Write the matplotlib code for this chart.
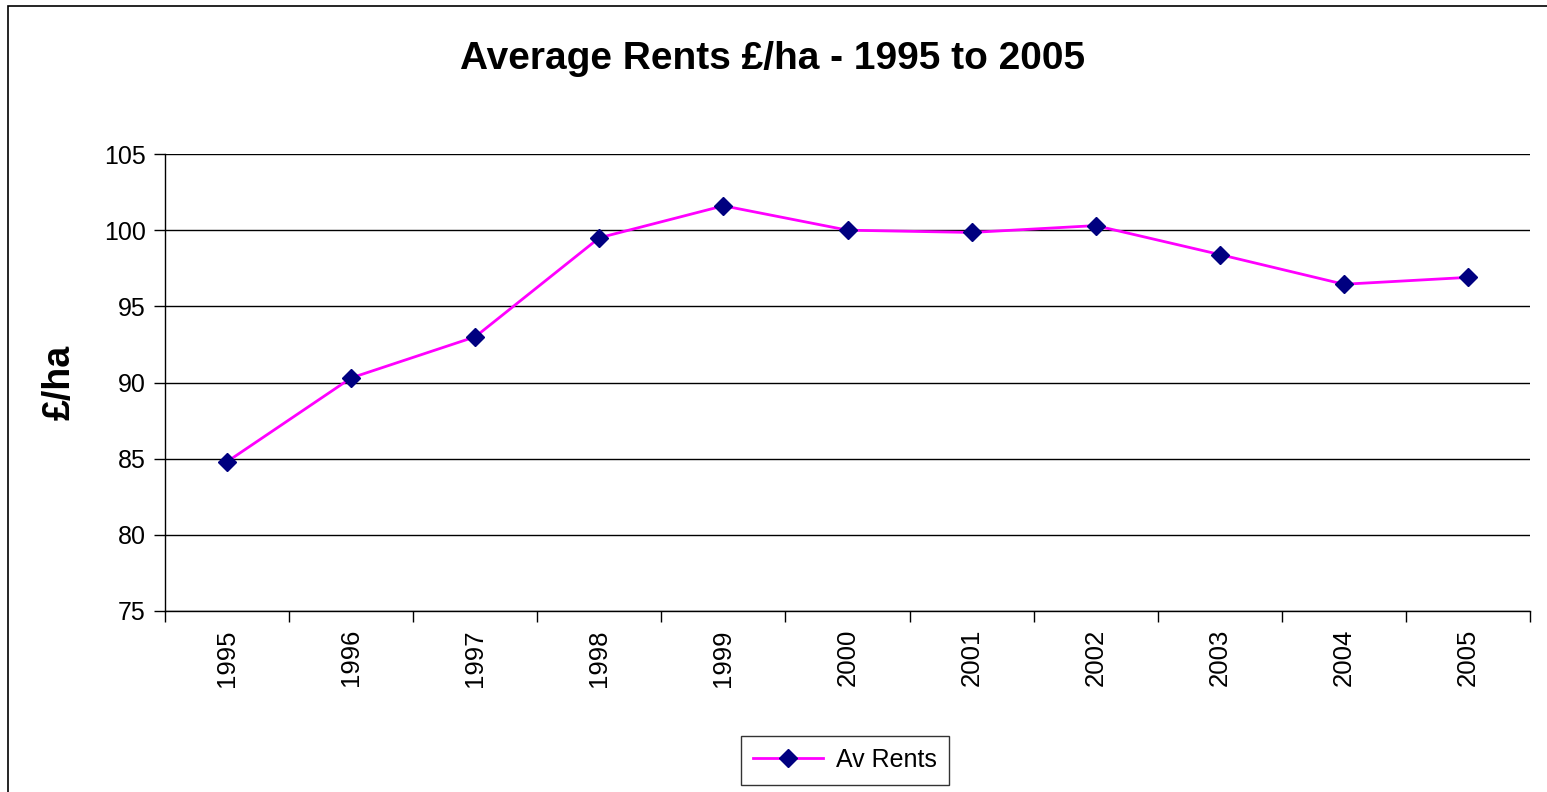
#!/usr/bin/env python3
import matplotlib
matplotlib.use("Agg")
import matplotlib.pyplot as plt
from matplotlib.patches import Rectangle

years = ["1995", "1996", "1997", "1998", "1999", "2000",
         "2001", "2002", "2003", "2004", "2005"]
av_rents = [84.8, 90.3, 93.0, 99.5, 101.6, 100.0, 99.85, 100.3, 98.4, 96.45, 96.9]
y_ticks = [75, 80, 85, 90, 95, 100, 105]

plt.rcParams["font.family"] = ["Liberation Sans", "DejaVu Sans"]

fig = plt.figure(figsize=(15.47, 7.92), dpi=100)
ax = fig.add_axes([165 / 1547, 1 - 611 / 792, (1530 - 165) / 1547, (611 - 154) / 792])

# outer chart border (cut off at right and bottom like the reference)
fig.patches.append(Rectangle((8 / 1547, -0.01), 1.02, 1 - 6 / 792 + 0.01,
                             transform=fig.transFigure, fill=False,
                             edgecolor="black", linewidth=1.2))

x = list(range(len(years)))
ax.plot(x, av_rents, color="#FF00FF", linewidth=2, marker="D", markersize=9,
        markerfacecolor="#000080", markeredgecolor="#000080", label="Av Rents")

ax.set_xlim(-0.5, len(years) - 0.5)
ax.set_ylim(75, 105)
ax.set_yticks(y_ticks)
ax.set_yticklabels([str(v) for v in y_ticks], fontsize=18)
ax.set_xticks(x)
ax.set_xticklabels(years, rotation=90, fontsize=18.5)
ax.tick_params(axis="x", length=0, pad=13)
ax.set_xticks([i - 0.5 for i in range(len(years) + 1)], minor=True)
ax.tick_params(axis="x", which="minor", length=8, width=1, direction="out")
ax.tick_params(axis="y", length=8, width=1, direction="out", pad=6)

ax.grid(axis="y", color="black", linewidth=1)
ax.set_axisbelow(True)
ax.spines["top"].set_visible(False)
ax.spines["right"].set_visible(False)
ax.spines["left"].set_linewidth(1)
ax.spines["bottom"].set_linewidth(1)

ax.set_ylabel("£/ha", fontsize=27, fontweight="bold", labelpad=19)
fig.text(773 / 1547, 1 - 59 / 792, "Average Rents £/ha - 1995 to 2005",
         ha="center", va="center", fontsize=28, fontweight="bold")

leg = ax.legend(loc="center", bbox_to_anchor=(845 / 1547, 1 - 760 / 792),
                bbox_transform=fig.transFigure, fontsize=18, frameon=True,
                fancybox=False, edgecolor="black", handlelength=2.8,
                handletextpad=0.5, borderpad=0.5)
leg.get_frame().set_linewidth(1)

fig.savefig("out.png", dpi=100)
plt.close(fig)
